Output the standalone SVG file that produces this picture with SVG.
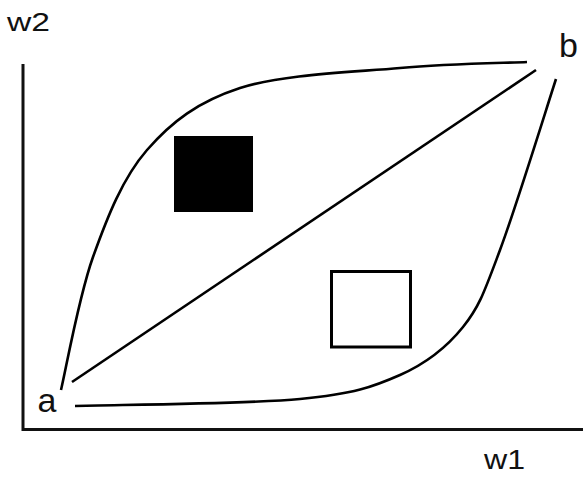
<svg xmlns="http://www.w3.org/2000/svg" width="583" height="477" viewBox="0 0 583 477">
<style>
.ln{fill:none;stroke:#000;stroke-width:2.6;stroke-linecap:butt}
.ax{fill:none;stroke:#111;stroke-width:3}
.lbl{font-family:"Liberation Sans",Arial,sans-serif;fill:#111}
</style>
<rect width="583" height="477" fill="#fff"/>
<g id="axes">
<path class="ax" d="M23,64 V429.5 H583"/>
<text class="lbl" x="7" y="31" font-size="26" textLength="43" lengthAdjust="spacingAndGlyphs">w2</text>
<text class="lbl" x="484" y="469" font-size="28" textLength="41" lengthAdjust="spacingAndGlyphs">w1</text>
</g>
<g id="node-a"><text class="lbl" x="37.5" y="412" font-size="34">a</text></g>
<g id="node-b"><text class="lbl" x="559" y="56.5" font-size="34">b</text></g>
<g id="connectors">
<path class="ln" d="M61,390 C66.3,367.8 78.7,297 93,257 C107.3,217 122.5,178.2 147,150 C171.5,121.8 197.8,101.7 240,88 C282.2,74.3 352.2,72.3 400,68 C447.8,63.7 505.8,63 527,62"/>
<path class="ln" d="M72,382 L536,70"/>
<path class="ln" d="M75,406 C112.5,404.8 245.8,404.2 300,399 C354.2,393.8 372.8,387 400,375 C427.2,363 446.3,347.8 463,327 C479.7,306.2 484.5,291.3 500,250 C515.5,208.7 546.7,107.5 556,79"/>
</g>
<g id="black-square"><rect x="174" y="136" width="79" height="76" fill="#000"/></g>
<g id="white-square"><rect x="331.5" y="271.5" width="79" height="75.5" fill="#fff" stroke="#000" stroke-width="3"/></g>
</svg>
